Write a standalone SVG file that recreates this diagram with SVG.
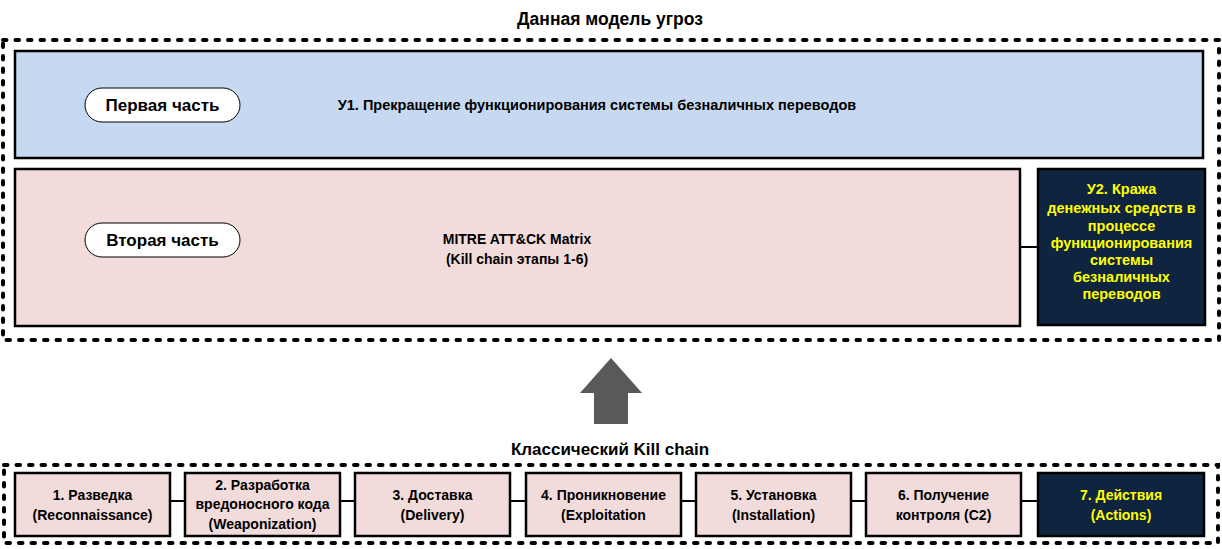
<svg xmlns="http://www.w3.org/2000/svg" width="1222" height="549" viewBox="0 0 1222 549">
<style>
  text { font-family: "Liberation Sans", Arial, sans-serif; font-weight: bold; fill: #000; text-anchor: middle; }
  .frame { fill: none; stroke: #000; stroke-width: 4; stroke-dasharray: 3.5 9; stroke-linecap: round; }
  .blue { fill: #c6d9f0; stroke: #000; stroke-width: 2.5; }
  .pink { fill: #f2dcdb; stroke: #000; stroke-width: 2.5; }
  .dark { fill: #0f243e; stroke: #000; stroke-width: 2.5; }
  .pill { fill: #fff; stroke: #000; stroke-width: 1; }
  .yt { fill: #ffff00; font-size: 14.5px; }
  .bt { font-size: 14px; }
  .link { stroke: #000; stroke-width: 2; fill: none; }
</style>

<g id="threat-model">
  <text x="610" y="25" style="font-size:17.5px">Данная модель угроз</text>
  <rect class="frame" x="3" y="40" width="1216" height="300"/>
</g>

<g id="part1">
  <rect class="blue" x="15" y="51" width="1188" height="107"/>
  <rect class="pill" x="85" y="88" width="155" height="34" rx="17"/>
  <text x="162.5" y="111" style="font-size:17px">Первая часть</text>
  <text x="597" y="110" style="font-size:14.5px">У1. Прекращение функционирования системы безналичных переводов</text>
</g>

<g id="part2">
  <rect class="pink" x="15" y="169" width="1005" height="157"/>
  <rect class="pill" x="85" y="223" width="155" height="34" rx="17"/>
  <text x="162.5" y="246" style="font-size:17px">Вторая часть</text>
  <text x="517" y="244" style="font-size:14px">MITRE ATT&amp;CK Matrix</text>
  <text x="517" y="264" style="font-size:14px">(Kill chain этапы 1-6)</text>
</g>

<g id="u2">
  <rect class="dark" x="1038" y="169" width="167" height="156"/>
  <text class="yt" x="1121.5" y="194">У2. Кража</text>
  <text class="yt" x="1121.5" y="213">денежных средств в</text>
  <text class="yt" x="1121.5" y="231">процессе</text>
  <text class="yt" x="1121.5" y="248">функционирования</text>
  <text class="yt" x="1121.5" y="265">системы</text>
  <text class="yt" x="1121.5" y="282">безналичных</text>
  <text class="yt" x="1121.5" y="299">переводов</text>
</g>

<g id="big-arrow">
  <polygon points="611,358 642,393 628,393 628,424 594,424 594,393 580,393" fill="#595959"/>
</g>

<g id="kill-chain">
  <text x="610" y="455" style="font-size:17px">Классический Kill chain</text>
  <rect class="frame" x="4" y="465" width="1214" height="78"/>
</g>

<g id="connectors">
  <line class="link" x1="1020" y1="247" x2="1038" y2="247"/>
  <line class="link" x1="170" y1="501" x2="185" y2="501"/>
  <line class="link" x1="340" y1="501" x2="355" y2="501"/>
  <line class="link" x1="510" y1="501" x2="526" y2="501"/>
  <line class="link" x1="681" y1="501" x2="696" y2="501"/>
  <line class="link" x1="851" y1="501" x2="866" y2="501"/>
  <line class="link" x1="1021" y1="501" x2="1038" y2="501"/>
</g>

<g id="step1">
  <rect class="pink" x="15" y="473" width="155" height="63"/>
  <text class="bt" x="92.5" y="500">1. Разведка</text>
  <text class="bt" x="92.5" y="520">(Reconnaissance)</text>
</g>
<g id="step2">
  <rect class="pink" x="185" y="473" width="155" height="63"/>
  <text class="bt" x="262.5" y="490">2. Разработка</text>
  <text class="bt" x="262.5" y="509">вредоносного кода</text>
  <text class="bt" x="262.5" y="529">(Weaponization)</text>
</g>
<g id="step3">
  <rect class="pink" x="355" y="473" width="155" height="63"/>
  <text class="bt" x="432.5" y="500">3. Доставка</text>
  <text class="bt" x="432.5" y="520">(Delivery)</text>
</g>
<g id="step4">
  <rect class="pink" x="526" y="473" width="155" height="63"/>
  <text class="bt" x="603.5" y="500">4. Проникновение</text>
  <text class="bt" x="603.5" y="520">(Exploitation</text>
</g>
<g id="step5">
  <rect class="pink" x="696" y="473" width="155" height="63"/>
  <text class="bt" x="773.5" y="500">5. Установка</text>
  <text class="bt" x="773.5" y="520">(Installation)</text>
</g>
<g id="step6">
  <rect class="pink" x="866" y="473" width="155" height="63"/>
  <text class="bt" x="943.5" y="500">6. Получение</text>
  <text class="bt" x="943.5" y="520">контроля (C2)</text>
</g>
<g id="step7">
  <rect class="dark" x="1038" y="473" width="166" height="63"/>
  <text class="bt" x="1121" y="500" style="fill:#ffff00">7. Действия</text>
  <text class="bt" x="1121" y="520" style="fill:#ffff00">(Actions)</text>
</g>
</svg>
